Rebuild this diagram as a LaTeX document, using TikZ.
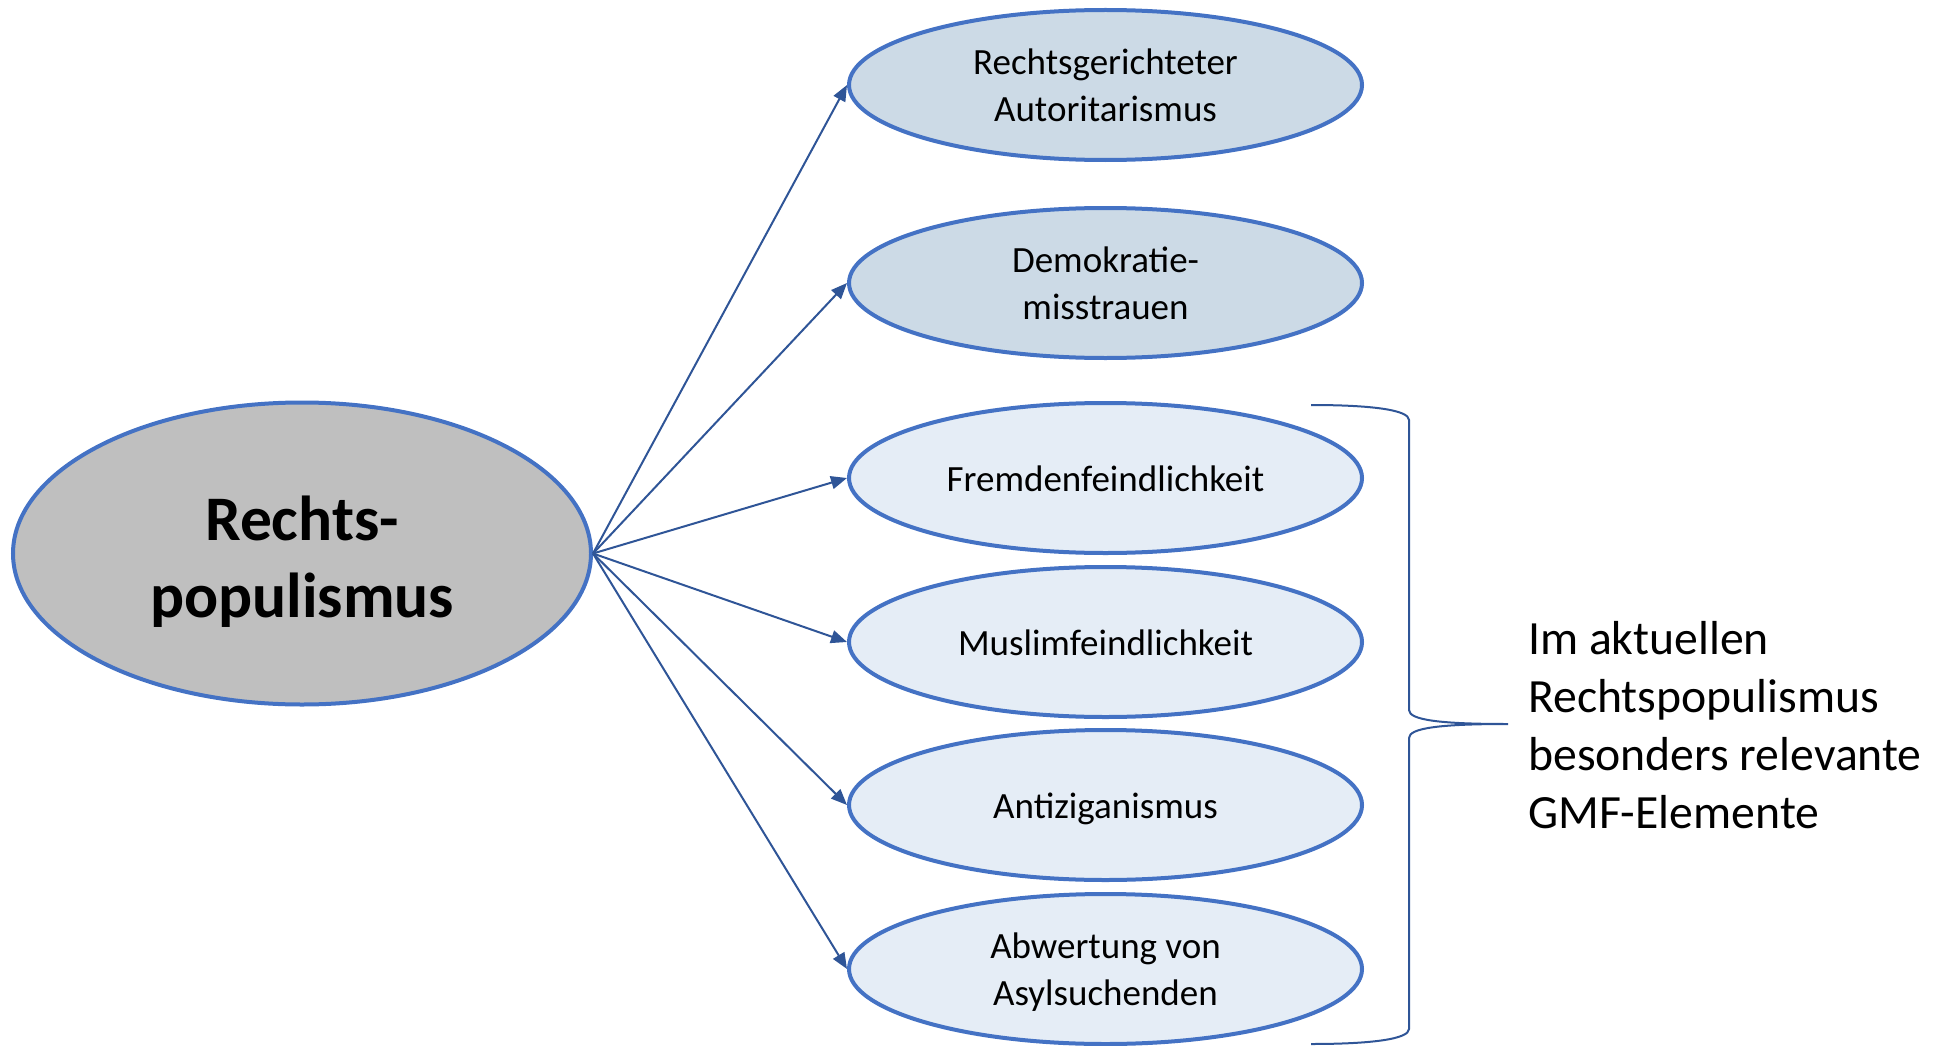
\documentclass[tikz,border=0pt]{standalone}
\usepackage{fontspec}
\setmainfont{Carlito}
\usetikzlibrary{shapes.geometric,arrows.meta}
\definecolor{bordblue}{HTML}{4472C4}
\definecolor{arrblue}{HTML}{2F5597}
\definecolor{fillA}{HTML}{CCDAE6}
\definecolor{fillB}{HTML}{E5EDF6}
\definecolor{fillC}{HTML}{BFBFBF}
\newcommand\lnstrut{\rule[-9pt]{0pt}{44pt}}
\newcommand\topstrut{\rule{0pt}{61pt}}
\tikzset{
  outer/.style={ellipse, draw=bordblue, line width=4pt, inner sep=0pt, align=center},
  mainel/.style={outer, fill=fillC, minimum width=578pt, minimum height=302pt,
    font=\fontsize{63.5}{77}\selectfont\bfseries},
  itemA/.style={outer, fill=fillA, minimum width=513pt, minimum height=150pt,
    font=\fontsize{37}{46.5}\selectfont},
  itemB/.style={itemA, fill=fillB},
  conn/.style={draw=arrblue, line width=2pt, -{Triangle[length=16pt,width=13pt]}},
  bracestyle/.style={draw=arrblue, line width=2pt}
}
\begin{document}
\begin{tikzpicture}[x=1pt,y=-1pt]
\useasboundingbox (0,0) rectangle (1946,1046);
\node[mainel] (c) at (302,553.5) {\topstrut Rechts-\\populismus};
\node[itemA] (e1) at (1105.5,85) {\lnstrut Rechtsgerichteter\\\lnstrut Autoritarismus};
\node[itemA] (e2) at (1105.5,283) {\lnstrut Demokratie-\\\lnstrut misstrauen};
\node[itemB] (e3) at (1105.5,478) {\lnstrut Fremdenfeindlichkeit};
\node[itemB] (e4) at (1105.5,642) {\lnstrut Muslimfeindlichkeit};
\node[itemB] (e5) at (1105.5,805) {\lnstrut Antiziganismus};
\node[itemB] (e6) at (1105.5,969) {\lnstrut Abwertung von\\\lnstrut Asylsuchenden};
\foreach \e in {e1,e2,e3,e4,e5,e6}
  \draw[conn] (c.east) -- (\e.west);
\coordinate (btop) at (1311,405);
\coordinate (btip) at (1508,724);
\coordinate (bbot) at (1311,1044);
\draw[bracestyle] (btop) .. controls (1372,405) and (1409,410) .. (1409,420)
  -- (1409,710) .. controls (1409,720) and (1440,724) .. (btip)
  .. controls (1440,724) and (1409,728) .. (1409,738)
  -- (1409,1029) .. controls (1409,1039) and (1372,1044) .. (bbot);
\node[anchor=base west, align=left, inner sep=0pt, font=\fontsize{47.7}{58}\selectfont] (t) at (1528,828)
  {Im aktuellen\\Rechtspopulismus\\besonders relevante\\GMF-Elemente};
\end{tikzpicture}
\end{document}
